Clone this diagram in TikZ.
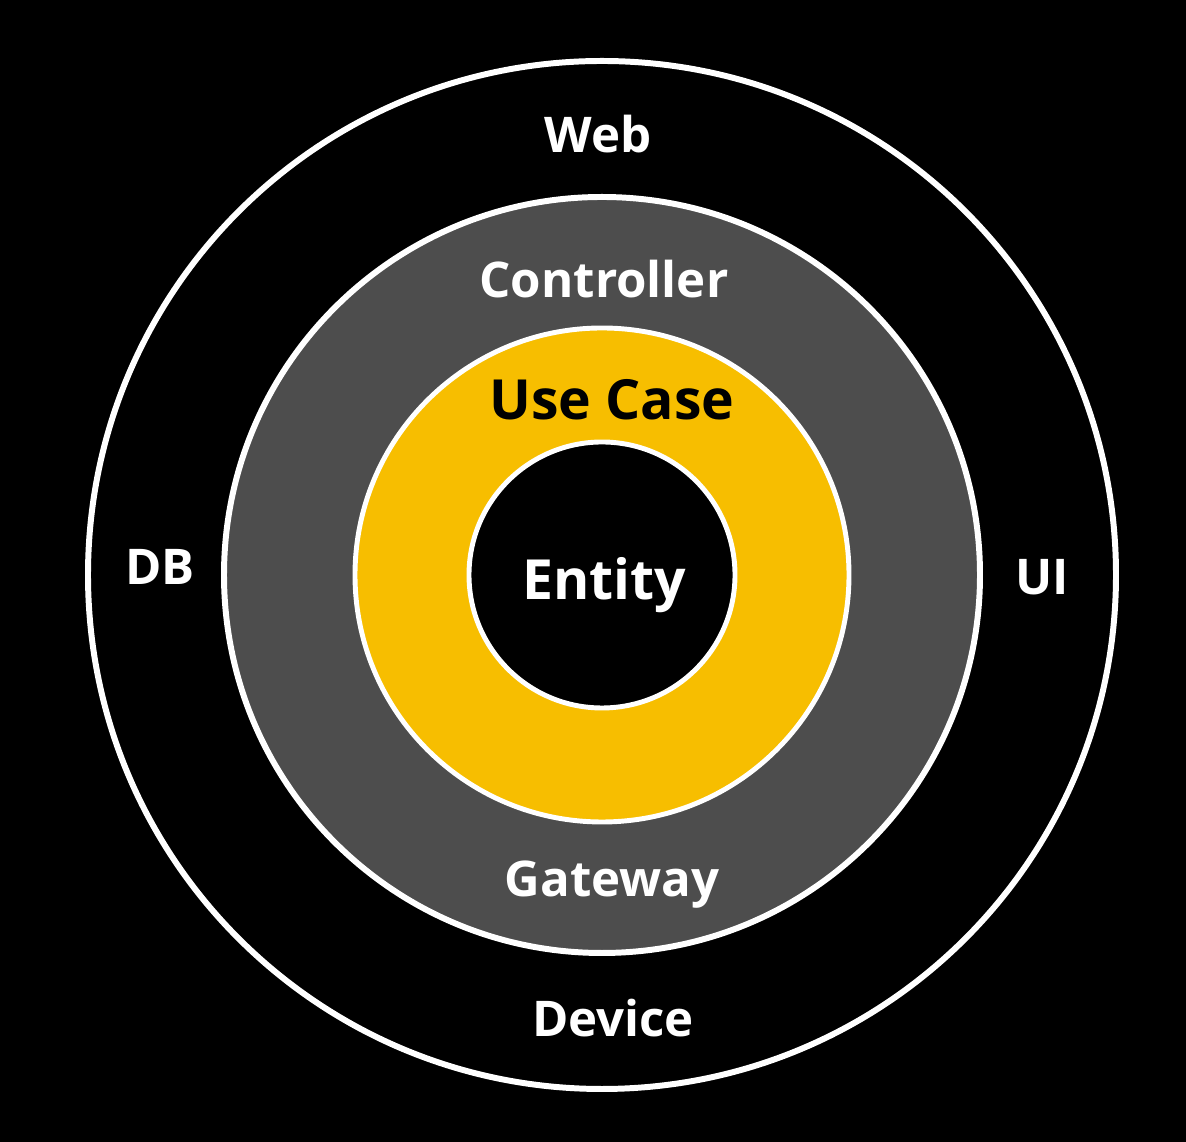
\documentclass[tikz,border=0pt]{standalone}
\usepackage{fontspec}
\setmainfont{Open Sans}
\definecolor{ringgrey}{HTML}{4D4D4D}
\definecolor{caseyellow}{HTML}{F7BE00}

\begin{document}
\begin{tikzpicture}[
    ringtext/.style={anchor=base, inner sep=0pt, text=white,
      font=\bfseries\fontsize{28}{34}\selectfont},
    coretext/.style={ringtext, font=\bfseries\fontsize{31.5}{38}\selectfont}]
       \fill[black](0,0)rectangle(23.72,22.84);
       \coordinate(Centre)at(12.04,11.34);
       \draw[white,line width=3.4pt](Centre)circle(10.28);
       \draw[white,line width=3.4pt,fill=ringgrey](Centre)circle(7.56);
       \draw[white,line width=2.8pt,fill=caseyellow](Centre)circle(4.94);
       \draw[white,line width=2.8pt,fill=black](Centre)circle(2.66);
       \node[ringtext](Web)at(11.96,19.78){Web};
       \node[ringtext](DB)at(3.2,11.14){DB};
       \node[ringtext](UI)at(20.84,10.94){UI};
       \node[ringtext](Device)at(12.26,2.1){Device};
       \node[ringtext](Controller)at(12.08,16.88){Controller};
       \node[ringtext](Gateway)at(12.24,4.9){Gateway};
       \node[coretext,text=black](UseCase)at(12.24,14.44){Use Case};
       \node[coretext](Entity)at(12.08,10.84){Entity};
      \end{tikzpicture}
\end{document}
